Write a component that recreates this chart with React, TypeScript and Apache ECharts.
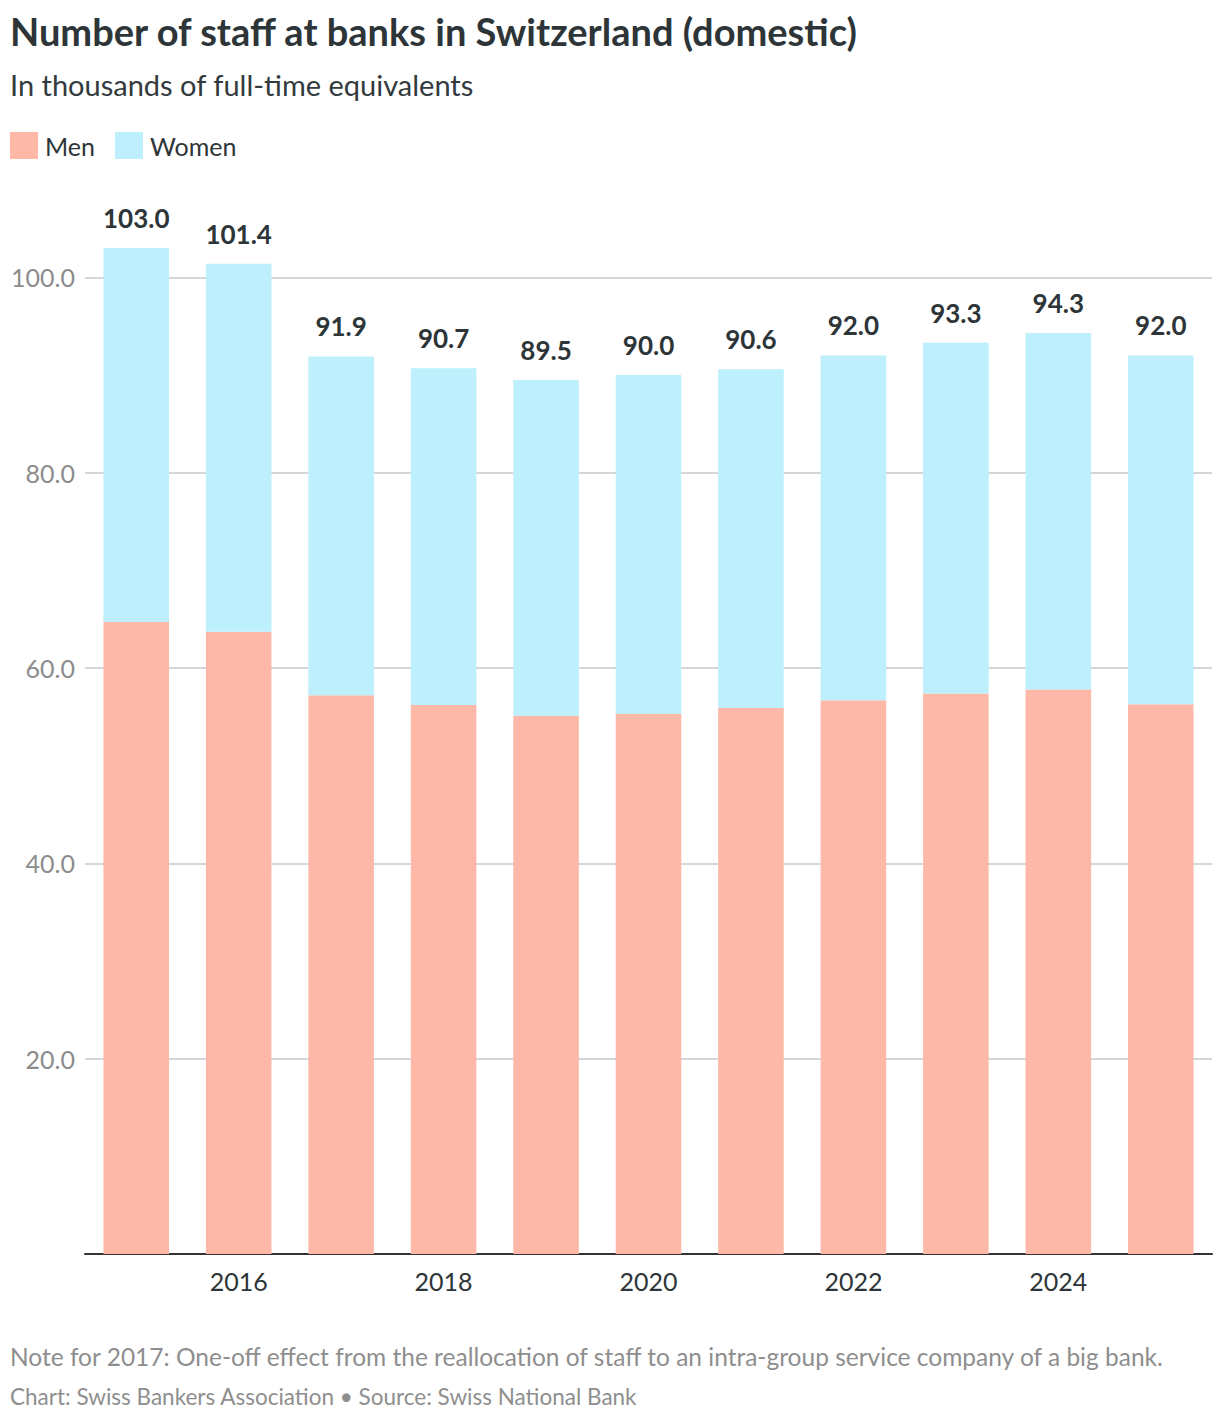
import React, { useEffect, useRef } from "react";
import * as echarts from "echarts";

const years = ["2015", "2016", "2017", "2018", "2019", "2020", "2021", "2022", "2023", "2024", "2025"];
const men = [64.7, 63.7, 57.2, 56.2, 55.1, 55.3, 55.9, 56.7, 57.4, 57.8, 56.3];
const women = [38.3, 37.7, 34.7, 34.5, 34.4, 34.7, 34.7, 35.3, 35.9, 36.5, 35.7];
const totals = [103.0, 101.4, 91.9, 90.7, 89.5, 90.0, 90.6, 92.0, 93.3, 94.3, 92.0];

const TITLE = "Number of staff at banks in Switzerland (domestic)";
const SUBTITLE = "In thousands of full-time equivalents";
const NOTE = "Note for 2017: One-off effect from the reallocation of staff to an intra-group service company of a big bank.";
const CREDIT = "Chart: Swiss Bankers Association \u2022 Source: Swiss National Bank";

const FONT = "Lato, 'Open Sans', sans-serif";
const DARK = "#2d3538";
const MEN_COLOR = "#fdb8a8";
const WOMEN_COLOR = "#bdeffc";

export default function App() {
  const ref = useRef<HTMLDivElement>(null);
  useEffect(() => {
    if (!ref.current) return;
    const chart = echarts.init(ref.current, undefined, { renderer: "svg" });
    chart.setOption({
      animation: false,
      backgroundColor: "#ffffff",
      textStyle: { fontFamily: FONT },
      graphic: [
        {
          type: "text",
          left: 10,
          top: 12,
          style: { text: TITLE, fontFamily: FONT, fontSize: 38, fontWeight: "bold", fill: DARK },
        },
        {
          type: "text",
          left: 10,
          top: 70,
          style: { text: SUBTITLE, fontFamily: FONT, fontSize: 29, fill: "#333a3d" },
        },
        {
          type: "text",
          left: 10,
          top: 1344,
          style: { text: NOTE, fontFamily: FONT, fontSize: 24.5, fill: "#8e8e8e" },
        },
        {
          type: "text",
          left: 10,
          top: 1385,
          style: { text: CREDIT, fontFamily: FONT, fontSize: 22.5, fill: "#8e8e8e" },
        },
      ],
      legend: {
        data: ["Men", "Women"],
        left: 10,
        top: 132,
        icon: "rect",
        itemWidth: 28,
        itemHeight: 27,
        itemGap: 20,
        padding: 0,
        textStyle: { fontFamily: FONT, fontSize: 25, color: DARK, padding: [0, 0, 0, 2] },
        selectedMode: false,
      },
      grid: { left: 85, right: 8, top: 82, bottom: 170, containLabel: false },
      xAxis: {
        type: "category",
        data: years,
        axisLine: { show: true, lineStyle: { color: "#333333", width: 2 } },
        axisTick: { show: false },
        axisLabel: {
          fontFamily: FONT,
          fontSize: 25,
          color: DARK,
          margin: 14,
          interval: (index: number, value: string) => Number(value) % 2 === 0,
        },
      },
      yAxis: {
        type: "value",
        min: 0,
        max: 120,
        interval: 20,
        axisLine: { show: false },
        axisTick: { show: false },
        axisLabel: {
          fontFamily: FONT,
          fontSize: 25,
          color: "#8c8c8c",
          margin: 10,
          showMinLabel: false,
          showMaxLabel: false,
          formatter: (v: number) => v.toFixed(1),
        },
        splitLine: {
          show: true,
          showMinLine: false,
          showMaxLine: false,
          lineStyle: { color: "#d4d7da", width: 2 },
        },
      },
      series: [
        {
          name: "Men",
          type: "bar",
          stack: "total",
          data: men,
          barCategoryGap: "36%",
          itemStyle: { color: MEN_COLOR },
          emphasis: { disabled: true },
        },
        {
          name: "Women",
          type: "bar",
          stack: "total",
          data: women,
          barCategoryGap: "36%",
          itemStyle: { color: WOMEN_COLOR },
          emphasis: { disabled: true },
          label: {
            show: true,
            position: "top",
            distance: 17,
            fontFamily: FONT,
            fontSize: 26,
            fontWeight: "bold",
            color: DARK,
            formatter: (p: any) => totals[p.dataIndex].toFixed(1),
          },
        },
      ],
    });
    return () => chart.dispose();
  }, []);
  return (
    <div
      ref={ref}
      style={{ position: "absolute", left: 0, top: 0, width: 1220, height: 1424 }}
    />
  );
}
